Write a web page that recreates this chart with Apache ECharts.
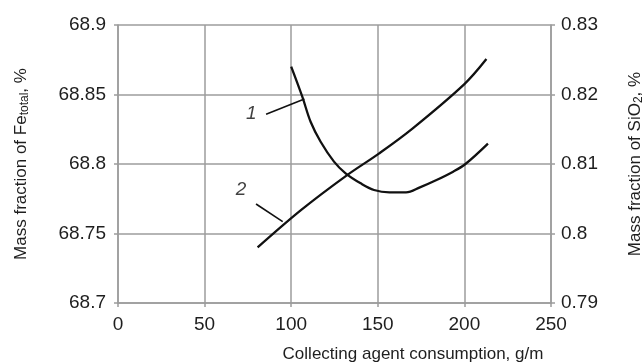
<!DOCTYPE html>
<html>
<head>
<meta charset="utf-8">
<script src="https://cdn.jsdelivr.net/npm/echarts@6/dist/echarts.min.js"></script>
<style>
  html, body { margin: 0; padding: 0; background: #fff; }
  #chart { width: 643px; height: 363px; }
</style>
</head>
<body>
<div id="chart"></div>
<script>
// curve 1: Fe total (left axis)
const feX = [100, 106.4, 111.2, 117, 124.7, 131.4, 140.1, 147.8, 156.7, 166.3, 174.3, 183.9, 193.5, 200.6, 213.6]
const feY = [68.870, 68.8484, 68.8304, 68.816, 68.8017, 68.7933, 68.7861, 68.7813, 68.7796, 68.7796, 68.7832, 68.7885, 68.7945, 68.800, 68.8147]
// curve 2: SiO2 (right axis)
const siX = [80.6, 105.8, 131.7, 150.6, 170, 200, 212.7]
const siY = [0.798, 0.8034, 0.8083, 0.8115, 0.8151, 0.8215, 0.8251]
// curve labels and their leader lines (left axis units)
const curveLabels = [['1', 77, 68.8365], ['2', 71, 68.7813]]
const leaders = [
    [[85.5, 68.8358], [107.6, 68.8468]],
    [[79.7, 68.7712], [95.1, 68.7585]]
]

const gridColor = '#9c9c9c'
const textColor = '#1e1e1e'
const font = 'Liberation Sans, Arial, sans-serif'

const chart = echarts.init(document.getElementById('chart'))

const axisCommon = {
    axisLine: { show: true, lineStyle: { color: gridColor, width: 1.5 } },
    axisTick: { show: true, inside: false, length: 4, lineStyle: { color: gridColor, width: 1.5 } },
    axisLabel: { color: textColor, fontSize: 19, fontFamily: font },
    nameTextStyle: { color: textColor, fontSize: 17, fontFamily: font }
}
const subStyle = { fontSize: 12, fontFamily: font, color: textColor, verticalAlign: 'bottom', padding: [8, 0, 0, 0] }

const option = {
    animation: false,
    backgroundColor: '#fff',
    grid: { left: 118, right: 92, top: 25, bottom: 60, outerBoundsMode: 'none', containLabel: false },
    xAxis: {
        ...axisCommon,
        type: 'value',
        min: 0,
        max: 250,
        interval: 50,
        axisLabel: { ...axisCommon.axisLabel, margin: 12 },
        splitLine: { show: true, lineStyle: { color: gridColor, width: 1.5 } },
        name: 'Collecting agent consumption, g/m',
        nameLocation: 'middle',
        nameGap: 43,
        nameTextStyle: { ...axisCommon.nameTextStyle, padding: [0, 0, 0, 157] }
    },
    yAxis: [
        {
            ...axisCommon,
            type: 'value',
            position: 'left',
            min: 68.7,
            max: 68.9,
            interval: 0.05,
            axisLabel: { ...axisCommon.axisLabel, margin: 12 },
            splitLine: { show: true, lineStyle: { color: gridColor, width: 1.5 } },
            name: 'Mass fraction of Fe{sub|total}, %',
            nameLocation: 'middle',
            nameRotate: 90,
            nameGap: 87,
            nameTextStyle: { ...axisCommon.nameTextStyle, rich: { sub: subStyle } }
        },
        {
            ...axisCommon,
            type: 'value',
            position: 'right',
            min: 0.79,
            max: 0.83,
            interval: 0.01,
            axisLabel: { ...axisCommon.axisLabel, margin: 10 },
            splitLine: { show: false },
            name: 'Mass fraction of SiO{sub|2}, %',
            nameLocation: 'middle',
            nameRotate: 90,
            nameGap: 74,
            nameTextStyle: { ...axisCommon.nameTextStyle, rich: { sub: subStyle } }
        }
    ],
    series: [
        {
            name: 'Fe',
            type: 'line',
            yAxisIndex: 0,
            smooth: 0.35,
            symbol: 'none',
            lineStyle: { color: '#111', width: 2.3 },
            data: feX.map((x, i) => [x, feY[i]])
        },
        {
            name: 'SiO2',
            type: 'line',
            yAxisIndex: 1,
            smooth: 0.35,
            symbol: 'none',
            lineStyle: { color: '#111', width: 2.3 },
            data: siX.map((x, i) => [x, siY[i]])
        },
        {
            name: 'labels',
            type: 'scatter',
            yAxisIndex: 0,
            symbolSize: 0,
            silent: true,
            label: {
                show: true,
                position: 'inside',
                fontSize: 19,
                fontStyle: 'italic',
                fontFamily: font,
                color: '#111'
            },
            data: curveLabels.map(d => ({ value: [d[1], d[2]], name: d[0], label: { formatter: d[0] } })),
            markLine: {
                silent: true,
                symbol: 'none',
                label: { show: false },
                lineStyle: { color: '#111', width: 1.6, type: 'solid' },
                data: leaders.map(l => [{ coord: l[0] }, { coord: l[1] }])
            }
        }
    ]
}

chart.setOption(option)
</script>
</body>
</html>
